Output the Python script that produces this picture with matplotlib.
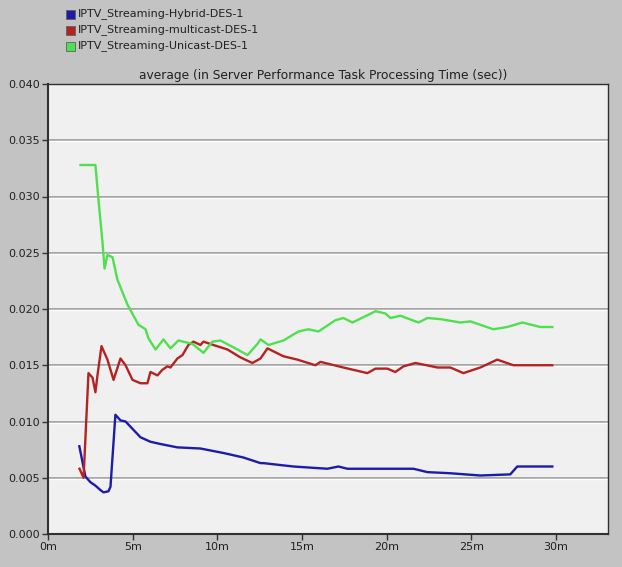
import matplotlib
matplotlib.use("Agg")
import matplotlib.pyplot as plt
from matplotlib.patches import Rectangle
from matplotlib.ticker import FuncFormatter

series_names = ["IPTV_Streaming-Hybrid-DES-1",
                "IPTV_Streaming-multicast-DES-1",
                "IPTV_Streaming-Unicast-DES-1"]

hybrid_t = [1.85, 2.21, 2.51, 2.80, 3.10, 3.28, 3.57, 3.69, 3.98, 4.28, 4.58,
            5.46, 6.05, 6.64, 7.64, 9.00, 10.36, 11.54, 12.55, 12.72, 14.49,
            16.50, 17.15, 17.68, 21.58, 22.41, 23.76, 25.53, 27.30, 27.71, 29.78]
hybrid_v = [0.0078, 0.0051, 0.0046, 0.0043, 0.0039, 0.0037, 0.0038, 0.0042, 0.0106, 0.0101, 0.0100,
            0.0086, 0.0082, 0.0080, 0.0077, 0.0076, 0.0072, 0.0068, 0.0063, 0.0063, 0.0060,
            0.0058, 0.0060, 0.0058, 0.0058, 0.0055, 0.0054, 0.0052, 0.0053, 0.0060, 0.0060]

multi_t = [1.86, 2.10, 2.39, 2.63, 2.80, 2.92, 3.16, 3.51, 3.87, 4.28, 4.58, 4.99,
           5.46, 5.87, 6.05, 6.46, 6.76, 7.05, 7.23, 7.64, 7.94, 8.29, 8.59, 9.00,
           9.18, 9.77, 10.60, 11.36, 12.07, 12.55, 12.96, 13.90, 14.73, 15.79, 16.09,
           17.44, 18.86, 19.34, 20.04, 20.51, 20.99, 21.70, 23.00, 23.76, 24.53,
           25.53, 26.53, 27.48, 28.66, 29.78]
multi_v = [0.0058, 0.0050, 0.0143, 0.0139, 0.0126, 0.0141, 0.0167, 0.0155, 0.0137, 0.0156, 0.0150, 0.0137,
           0.0134, 0.0134, 0.0144, 0.0141, 0.0146, 0.0149, 0.0148, 0.0156, 0.0159, 0.0168, 0.0171, 0.0168,
           0.0171, 0.0168, 0.0164, 0.0157, 0.0152, 0.0156, 0.0165, 0.0158, 0.0155, 0.0150, 0.0153,
           0.0148, 0.0143, 0.0147, 0.0147, 0.0144, 0.0149, 0.0152, 0.0148, 0.0148, 0.0143,
           0.0148, 0.0155, 0.0150, 0.0150, 0.0150]

uni_t = [1.92, 2.80, 2.98, 3.22, 3.34, 3.51, 3.81, 4.10, 4.69, 5.34, 5.76, 5.93,
         6.35, 6.46, 6.82, 7.23, 7.70, 8.53, 9.18, 9.71, 10.18, 11.19, 11.78, 12.37,
         12.55, 13.02, 13.90, 14.79, 15.38, 15.97, 16.97, 17.44, 17.98, 19.34, 19.93,
         20.22, 20.81, 21.88, 22.41, 23.17, 24.35, 24.94, 26.30, 27.12, 28.01, 29.07, 29.78]
uni_v = [0.0328, 0.0328, 0.0297, 0.0259, 0.0236, 0.0248, 0.0246, 0.0226, 0.0204, 0.0186, 0.0182, 0.0174,
         0.0164, 0.0166, 0.0173, 0.0165, 0.0172, 0.0169, 0.0161, 0.0171, 0.0172, 0.0164, 0.0159, 0.0169,
         0.0173, 0.0168, 0.0172, 0.0180, 0.0182, 0.0180, 0.0190, 0.0192, 0.0188, 0.0198, 0.0196,
         0.0192, 0.0194, 0.0188, 0.0192, 0.0191, 0.0188, 0.0189, 0.0182, 0.0184, 0.0188, 0.0184, 0.0184]

x_ticks = [0, 5, 10, 15, 20, 25, 30]
x_tick_labels = ["0m", "5m", "10m", "15m", "20m", "25m", "30m"]
y_ticks = [0.000, 0.005, 0.010, 0.015, 0.020, 0.025, 0.030, 0.035, 0.040]

colors = ["#1c1ca8", "#b42222", "#4ee04e"]
title = "average (in Server Performance Task Processing Time (sec))"

W, H = 622, 567
fig = plt.figure(figsize=(W / 100, H / 100), dpi=100)
fig.patch.set_facecolor("#c3c3c3")

left, right, top, bottom = 48, 608, 84, 534
ax = fig.add_axes([left / W, 1 - bottom / H, (right - left) / W, (bottom - top) / H])
ax.set_facecolor("#f0f0f0")

for yt in y_ticks[1:-1]:
    ax.axhline(yt, color="#a0a0a0", lw=1.3, zorder=1)
    ax.axhline(yt - 0.00009, color="#ffffff", lw=1.0, zorder=1)

for t, v, c in zip([hybrid_t, multi_t, uni_t], [hybrid_v, multi_v, uni_v], colors):
    ax.plot(t, v, color=c, lw=1.7, zorder=3, solid_joinstyle="round")

ax.set_xlim(0, 33.07)
ax.set_ylim(0, 0.040)
ax.set_xticks(x_ticks)
ax.set_xticklabels(x_tick_labels)
ax.set_yticks(y_ticks)
ax.yaxis.set_major_formatter(FuncFormatter(lambda v, p: f"{v:.3f}"))
ax.tick_params(direction="out", length=4, width=1, color="#333333", labelsize=8,
               labelcolor="#202020", pad=2)
for s in ax.spines.values():
    s.set_color("#303030")
    s.set_linewidth(1.0)
ax.spines["left"].set_linewidth(1.5)
ax.spines["bottom"].set_linewidth(1.5)

fig.text((left + right) / 2 / W - 5 / W, 1 - 75 / H, title, ha="center", va="center",
         fontsize=8.8, color="#202020")

for i, (name, c) in enumerate(zip(series_names, colors)):
    yc = 14 + 16 * i
    fig.add_artist(Rectangle(((66) / W, 1 - (yc + 5) / H), 9 / W, 9 / H,
                             transform=fig.transFigure, facecolor=c,
                             edgecolor="#606060", lw=0.6))
    fig.text(78 / W, 1 - yc / H, name, ha="left", va="center", fontsize=8,
             color="#202020")

fig.savefig("out.png", dpi=100, facecolor=fig.get_facecolor())
